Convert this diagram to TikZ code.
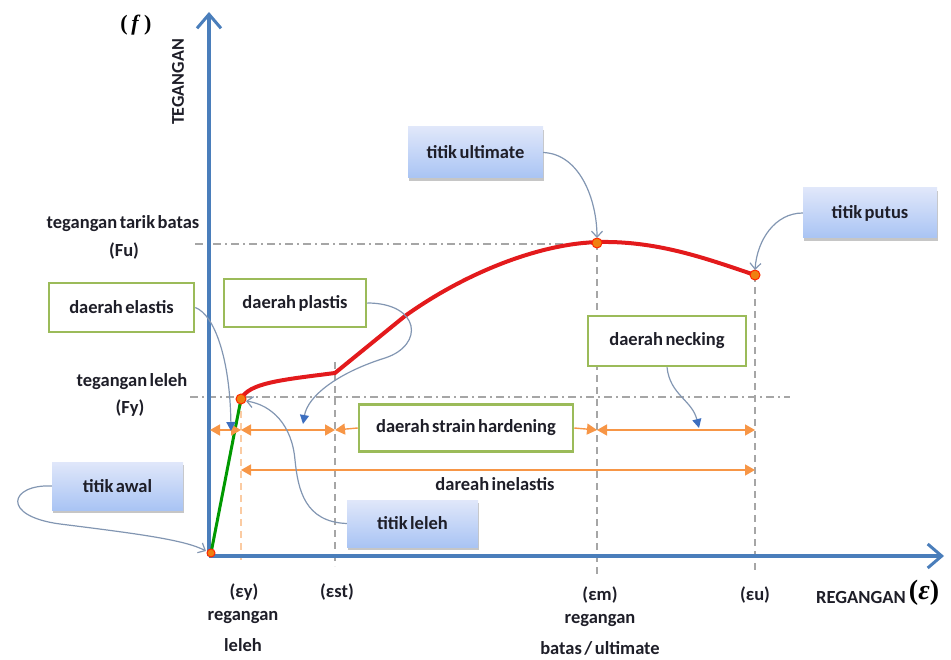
\documentclass[tikz,border=0pt]{standalone}
\usepackage{fontspec}
\setmainfont{Carlito}
\newfontfamily\serifbold{Liberation Serif}
\usetikzlibrary{arrows.meta,shadows}
\definecolor{axisblue}{HTML}{4A7EBB}
\definecolor{conngray}{HTML}{8296B2}
\definecolor{arrblue}{HTML}{3D6FC0}
\definecolor{orng}{HTML}{F79646}
\definecolor{boxgreen}{HTML}{9BBB59}
\definecolor{curvered}{HTML}{E31A1C}
\definecolor{txt}{HTML}{1E1E28}
\definecolor{boxtop}{HTML}{E0E7FA}
\definecolor{boxbot}{HTML}{A9C4F4}
\newcommand{\tightfont}{\fontsize{18.5}{20}\selectfont\bfseries\spaceskip=2.5pt plus 1pt minus 1pt}
\begin{document}
\begin{tikzpicture}[x=1pt,y=-1pt,
  lbl/.style={text=txt,font=\tightfont,inner sep=0pt},
  axisline/.style={line width=4.5pt,draw=axisblue,-{Straight Barb[length=14pt,width=24pt,line width=3pt]}},
  bluebox/.style={top color=boxtop,bottom color=boxbot,
     text=txt,font=\tightfont,
     drop shadow={shadow xshift=1pt,shadow yshift=-3pt,opacity=0.45,fill=gray}},
  greenbox/.style={draw=boxgreen,line width=2.5pt,fill=white,text=txt,font=\tightfont},
  conn/.style={draw=conngray,line width=1.2pt,-{Straight Barb[length=6pt,width=11pt,line width=1.2pt]}},
  connb/.style={draw=conngray,line width=1.2pt,-{Triangle[length=9pt,width=9pt,fill=arrblue,color=arrblue]}},
  oarr/.style={draw=orng,line width=1.4pt,{Triangle[length=10pt,width=11pt]}-{Triangle[length=10pt,width=11pt]}},
  oarrr/.style={draw=orng,line width=1.4pt,-{Triangle[length=10pt,width=11pt]}},
  guide/.style={draw=gray!70,line width=1.2pt,dash pattern=on 8pt off 4pt on 2pt off 4pt},
  vguide/.style={draw=gray!70,line width=1.2pt,dash pattern=on 7pt off 5pt},
  dotpt/.style={circle,fill=orange!75!brown,draw=red!70!orange,line width=1pt,inner sep=0pt,minimum size=10pt}
]
\useasboundingbox (0,0) rectangle (951,660);

% guide lines
\draw[guide] (195,244) -- (597,244);
\draw[guide] (190,397) -- (790,397);
\draw[vguide,draw=orng!50] (241,399) -- (241,560);
\draw[vguide] (335,362) -- (335,566);
\draw[vguide] (597,243) -- (597,575);
\draw[vguide] (755,275) -- (755,572);

% axes
\coordinate (O) at (209,556);
\coordinate (ytip) at (209,12);
\coordinate (xtip) at (944,556);
\draw[axisline] (O) -- (ytip);
\draw[axisline] (O) -- (xtip);

% curve points
\coordinate (Y) at (241,399);
\coordinate (E) at (335,373);
\coordinate (U) at (597,243);
\coordinate (B) at (755,275);

\draw[line width=3pt,draw=green!60!black] (211,553) -- (Y);
\draw[line width=4pt,draw=curvered,line join=round]
  (Y) .. controls (249,383) and (280,380) .. (E) -- (405,316)
  .. controls (465,273) and (540,243) .. (600,242)
  .. controls (660,241) and (710,260) .. (B);

\node[dotpt,minimum size=8pt] (po) at (211,553) {};
\node[dotpt] (py) at (Y) {};
\node[dotpt] (pu) at (U) {};
\node[dotpt] (pb) at (B) {};

% boxes
\node[bluebox,minimum width=135pt,minimum height=51pt] (ult) at (475.5,152.5) {titik ultimate};
\node[bluebox,minimum width=134pt,minimum height=50pt] (putus) at (870,213) {titik putus};
\node[bluebox,minimum width=131pt,minimum height=48pt] (awal) at (117.5,486) {titik awal};
\node[bluebox,minimum width=131pt,minimum height=47pt] (leleh) at (412.5,523.5) {titik leleh};
\node[greenbox,minimum width=145pt,minimum height=49pt] (elastis) at (121.5,307.5) {daerah elastis};
\node[greenbox,minimum width=142pt,minimum height=48pt] (plastis) at (295,303) {daerah plastis};
\node[greenbox,minimum width=214pt,minimum height=47pt] (strain) at (466,428) {daerah strain hardening};
\node[greenbox,minimum width=158pt,minimum height=50pt] (necking) at (667,341) {daerah necking};

% orange range arrows
\coordinate (r0) at (210,430);
\coordinate (r1) at (241,430);
\coordinate (r2) at (335,430);
\coordinate (r3) at (597,430);
\coordinate (r4) at (755,430);
\coordinate (i0) at (241,470);
\coordinate (i1) at (755,470);
\draw[oarr] (r0) -- (r1);
\draw[oarr] (r1) -- (r2);
\draw[oarrr] (strain.west) -- (r2);
\draw[oarrr] (strain.east) -- (r3);
\draw[oarr] (r3) -- (r4);
\draw[oarr] (i0) -- (i1);

% connectors
\draw[conn] (ult.east) .. controls (580,154) and (597,200) .. (597,238);
\draw[conn] (putus.west) .. controls (775,213) and (757,240) .. (755,270);
\draw[conn] (awal.west) .. controls (10,484) and (0,516) .. (60,524)
   .. controls (140,534) and (185,540) .. (206,551);
\draw[conn] (leleh.west) .. controls (305,522) and (298,490) .. (295,460)
   .. controls (292,425) and (272,405) .. (246,401);
\draw[connb] (elastis.east) .. controls (215,315) and (230,360) .. (231,431);
\draw[connb] (plastis.east) .. controls (420,303) and (425,345) .. (385,358)
   .. controls (340,372) and (308,395) .. (303,424);
\draw[connb] (necking.south) .. controls (670,395) and (692,400) .. (699,428);

% labels
\node[lbl] (fu1) at (123,224) {tegangan tarik batas};
\node[lbl] (fu2) at (124,251) {(Fu)};
\node[lbl] (fy1) at (132,382) {tegangan leleh};
\node[lbl] (fy2) at (130,408) {(Fy)};
\node[lbl] (inel) at (495,484) {dareah inelastis};
\node[lbl] (ey) at (244,592) {(εy)};
\node[lbl] (ey2) at (243,617) {regangan};
\node[lbl] (ey3) at (243,645) {leleh};
\node[lbl] (est) at (337,592) {(εst)};
\node[lbl] (em) at (600,595) {(εm)};
\node[lbl] (em2) at (600,620) {regangan};
\node[lbl] (em3) at (600,648) {batas / ultimate};
\node[lbl] (eu) at (755,595) {(εu)};
\node[lbl,font=\bfseries\fontsize{18.5}{20}\selectfont] (reg) at (861,597) {REGANGAN};
\node[text=black,inner sep=0pt,font=\serifbold\bfseries\fontsize{28}{30}\selectfont] (eps) at (924,593) {(\textit{ε})};
\node[text=black,inner sep=0pt,font=\serifbold\bfseries\fontsize{22}{24}\selectfont] (f) at (136,25) {(\,\textit{f}\,)};
\node[lbl,font=\bfseries\fontsize{18}{20}\selectfont,rotate=90] (teg) at (178,82) {TEGANGAN};
\end{tikzpicture}
\end{document}
